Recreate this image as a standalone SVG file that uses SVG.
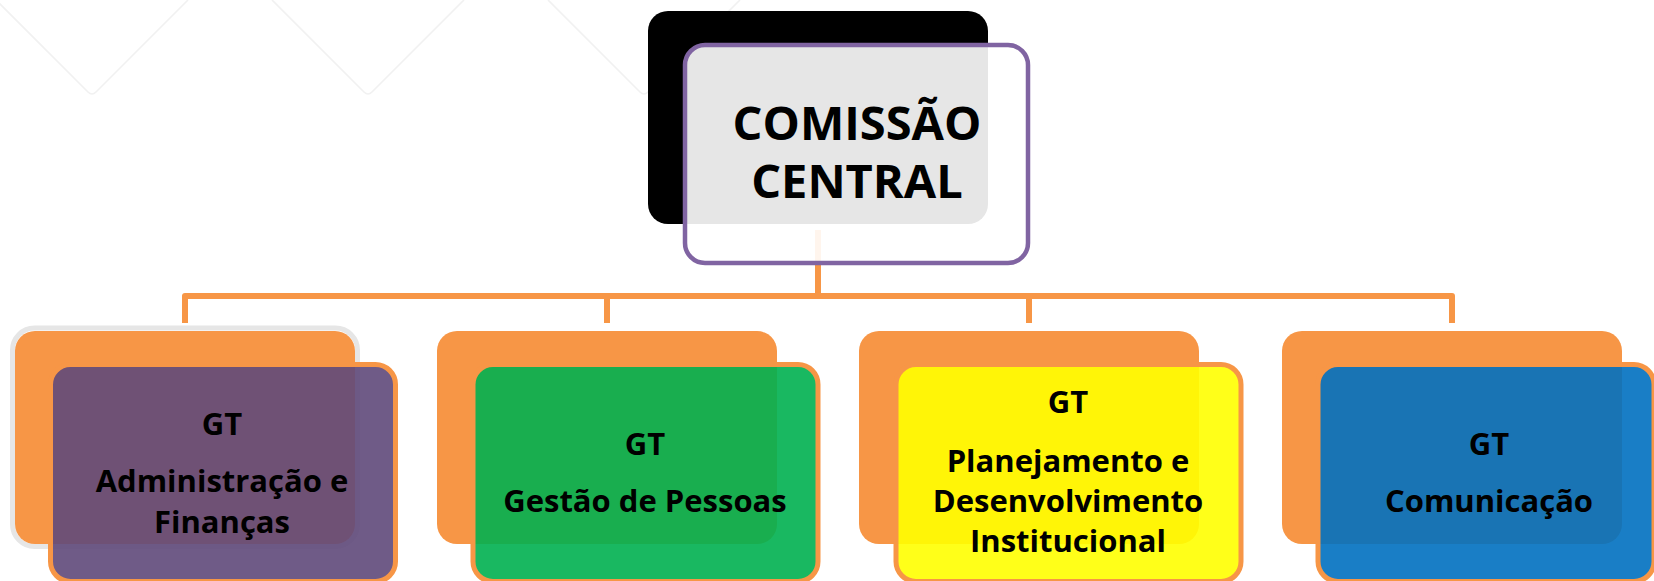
<svg xmlns="http://www.w3.org/2000/svg" width="1654" height="581" viewBox="0 0 1654 581">
<style>
.bg{fill:none;stroke:#F1F1F1;stroke-width:1.6}
.conn{fill:none;stroke:#F79646;stroke-width:6;stroke-linejoin:round}
.back{fill:#F79646}
.front{stroke:#F79646;stroke-width:5;fill-opacity:0.9}
.t{font-family:"Open Sans","Noto Sans",sans-serif;font-weight:bold;fill:#000;text-anchor:middle}
.tc{font-size:47px}
.tn{font-size:31px}
</style>
<rect width="1654" height="581" fill="#FFFFFF"/>
<g id="background">
<path class="bg" d="M-4,0 L88,92 Q92,96 96,92 L188,0"/>
<path class="bg" d="M272,0 L364,92 Q368,96 372,92 L464,0"/>
<path class="bg" d="M548,0 L640,92 Q644,96 648,92 L740,0"/>
</g>
<g id="connectors">
<path class="conn" d="M818,230 V296"/>
<path class="conn" d="M185,323 V296 H1452 V323"/>
<path class="conn" d="M607,296 V323"/>
<path class="conn" d="M1029,296 V323"/>
</g>
<g id="central">
<rect x="648" y="11" width="340" height="213" rx="20" fill="#000000"/>
<rect x="685" y="45" width="343" height="218" rx="20" fill="#FFFFFF" fill-opacity="0.9" stroke="#8064A2" stroke-width="4.5"/>
<text class="t tc" x="857" y="140">COMISSÃO</text>
<text class="t tc" x="857" y="198">CENTRAL</text>
</g>
<g id="gt-administracao">
<rect x="12.5" y="328" width="345" height="218.5" rx="22" fill="none" stroke="#E6E6E6" stroke-width="5"/>
<rect class="back" x="15" y="331" width="340" height="213" rx="20"/>
<rect class="front" x="50.5" y="364.5" width="345" height="217" rx="20" fill="#5F497A"/>
<text class="t tn" x="222" y="435">GT</text>
<text class="t tn" x="222" y="492">Administração e</text>
<text class="t tn" x="222" y="533">Finanças</text>
</g>
<g id="gt-pessoas">
<rect class="back" x="437" y="331" width="340" height="213" rx="20"/>
<rect class="front" x="473" y="364.5" width="345" height="217" rx="20" fill="#00B050"/>
<text class="t tn" x="645" y="455">GT</text>
<text class="t tn" x="645" y="512">Gestão de Pessoas</text>
</g>
<g id="gt-planejamento">
<rect class="back" x="859" y="331" width="340" height="213" rx="20"/>
<rect class="front" x="896" y="364.5" width="345" height="217" rx="20" fill="#FFFF00"/>
<text class="t tn" x="1068" y="413">GT</text>
<text class="t tn" x="1068" y="472">Planejamento e</text>
<text class="t tn" x="1068" y="512">Desenvolvimento</text>
<text class="t tn" x="1068" y="552">Institucional</text>
</g>
<g id="gt-comunicacao">
<rect class="back" x="1282" y="331" width="340" height="213" rx="20"/>
<rect class="front" x="1318" y="364.5" width="336" height="217" rx="20" fill="#0070C0"/>
<text class="t tn" x="1489" y="455">GT</text>
<text class="t tn" x="1489" y="512">Comunicação</text>
</g>
</svg>
